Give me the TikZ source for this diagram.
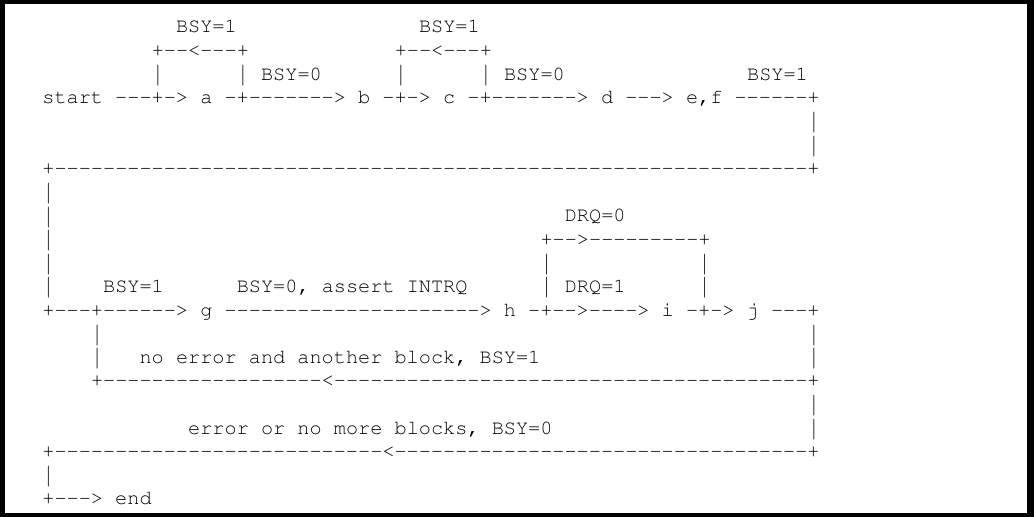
\documentclass[tikz,border=0pt]{standalone}
\usepackage[T1]{fontenc}
\usepackage{courier}
\newcommand{\dashrun}[1]{\foreach\dd in {1,...,#1}{-}}
\newcommand{\vbar}{\raisebox{-0.12em}{\scalebox{1}[1.42]{|}}}

\begin{document}
\frenchspacing
\begin{tikzpicture}[x=0.5pt,y=-0.5pt,
  asc/.style={anchor=base west,inner sep=0pt,text=black,font=\ttfamily\fontsize{10.12}{12}\selectfont}]

\useasboundingbox (0,0) rectangle (1034,517);
\fill (0,0) rectangle (1034,517);
\fill[white] (5,4) rectangle (1027,513);

\begin{scope}[shift={(42,9.3)},x=6.075pt,y=-11.8pt]
\node[asc] (bsyA) at (11,1) {BSY=1};
\node[asc] (bsyC) at (31,1) {BSY=1};
\node[asc] (loopA) at (9,2) {+\dashrun{2}<\dashrun{3}+};
\node[asc] (loopC) at (29,2) {+\dashrun{2}<\dashrun{3}+};
\node[asc] (barA) at (9,3) {\vbar};
\node[asc] (bsyB) at (16,3) {\vbar{} BSY=0};
\node[asc] (barC) at (29,3) {\vbar};
\node[asc] (bsyD) at (36,3) {\vbar{} BSY=0};
\node[asc] (bsyEF) at (58,3) {BSY=1};
\node[asc] (start) at (0,4) {start \dashrun{3}+-> a -+\dashrun{7}> b -+-> c -+\dashrun{7}> d \dashrun{3}> e,f \dashrun{6}+};
\node[asc] (downA) at (63,5) {\vbar};
\node[asc] (downB) at (63,6) {\vbar};
\node[asc] (back) at (0,7) {+\dashrun{62}+};
\node[asc] (leftA) at (0,8) {\vbar};
\node[asc] (leftB) at (0,9) {\vbar};
\node[asc] (drq0) at (43,9) {DRQ=0};
\node[asc] (leftC) at (0,10) {\vbar};
\node[asc] (loopH) at (41,10) {+\dashrun{2}>\dashrun{9}+};
\node[asc] (leftD) at (0,11) {\vbar};
\node[asc] (barH) at (41,11) {\vbar};
\node[asc] (barI) at (54,11) {\vbar};
\node[asc] (leftE) at (0,12) {\vbar};
\node[asc] (bsyG) at (5,12) {BSY=1};
\node[asc] (intrq) at (16,12) {BSY=0, assert INTRQ};
\node[asc] (drq1) at (41,12) {\vbar{} DRQ=1};
\node[asc] (barI2) at (54,12) {\vbar};
\node[asc] (g) at (0,13) {+\dashrun{3}+\dashrun{6}> g \dashrun{21}> h -+\dashrun{2}>\dashrun{4}> i -+-> j \dashrun{3}+};
\node[asc] (nextA) at (4,14) {\vbar};
\node[asc] (downJ) at (63,14) {\vbar};
\node[asc] (nextB) at (4,15) {\vbar};
\node[asc] (noerr) at (8,15) {no error and another block, BSY=1};
\node[asc] (downJ2) at (63,15) {\vbar};
\node[asc] (next) at (4,16) {+\dashrun{18}<\dashrun{39}+};
\node[asc] (downK) at (63,17) {\vbar};
\node[asc] (err) at (12,18) {error or no more blocks, BSY=0};
\node[asc] (downK2) at (63,18) {\vbar};
\node[asc] (done) at (0,19) {+\dashrun{27}<\dashrun{34}+};
\node[asc] (leftF) at (0,20) {\vbar};
\node[asc] (end) at (0,21) {+\dashrun{3}> end};
\end{scope}

\end{tikzpicture}
\end{document}
